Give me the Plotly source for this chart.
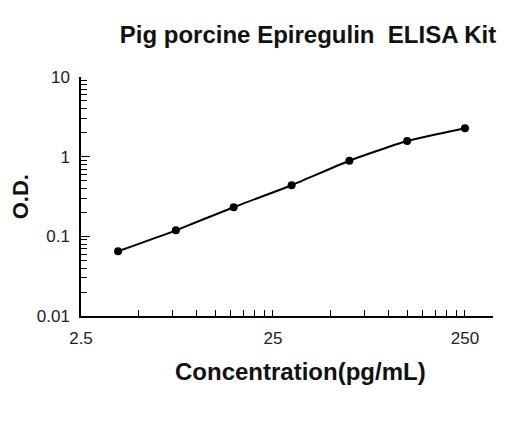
import plotly.graph_objects as go

# standard curve points
concentration = [3.9, 7.8, 15.6, 31.25, 62.5, 125, 250]
od = [0.065, 0.119, 0.232, 0.438, 0.89, 1.57, 2.28]

x_major = [2.5, 25, 250]
x_major_text = ["2.5", "25", "250"]
x_minor = [5, 7.5, 10, 12.5, 15, 17.5, 20, 22.5,
           50, 75, 100, 125, 150, 175, 200, 225]

y_major = [0.01, 0.1, 1, 10]
y_major_text = ["0.01", "0.1", "1", "10"]
y_minor = [m * d for d in (0.01, 0.1, 1) for m in range(2, 10)]

fig = go.Figure()
fig.add_trace(go.Scatter(
    x=concentration,
    y=od,
    mode="lines+markers",
    line=dict(color="black", width=2, shape="spline", smoothing=0.5),
    marker=dict(color="black", size=8),
    showlegend=False,
    hoverinfo="x+y",
))

# page body adds 8px, so the figure is a bit smaller than the window
fig.update_layout(
    width=512,
    height=413,
    margin=dict(l=73, r=27, t=69, b=105, autoexpand=False),
    paper_bgcolor="white",
    plot_bgcolor="white",
    font=dict(family="Liberation Sans, Arial", color="black"),
    title=dict(
        text="<b>Pig porcine Epiregulin  ELISA Kit</b>",
        x=0.586, xref="container", xanchor="center",
        y=0.935, yref="container", yanchor="middle",
        font=dict(size=24, color="#111"),
    ),
    annotations=[
        dict(
            text="<b>Concentration(pg/mL)</b>",
            xref="paper", yref="paper",
            x=0.532, y=-0.234, xanchor="center", yanchor="middle",
            showarrow=False, font=dict(size=24, color="#111"),
        ),
        dict(
            text="<b>O.D.</b>", textangle=-90,
            xref="paper", yref="paper",
            x=-0.145, y=0.498, xanchor="center", yanchor="middle",
            showarrow=False, borderpad=0, font=dict(size=22, color="#111"),
        ),
    ],
)

fig.update_xaxes(
    type="log",
    range=[0.39794, 2.544],
    automargin=False,
    showgrid=False,
    zeroline=False,
    showline=True, linecolor="black", linewidth=1.5,
    tickmode="array", tickvals=x_major, ticktext=x_major_text,
    ticks="inside", ticklen=6, tickwidth=1, tickcolor="black",
    tickfont=dict(size=17, color="#222"),
    ticklabelstandoff=6,
    minor=dict(tickmode="array", tickvals=x_minor, ticks="inside",
               ticklen=6, tickwidth=1, tickcolor="black", showgrid=False),
)

fig.update_yaxes(
    type="log",
    range=[-2, 1],
    automargin=False,
    showgrid=False,
    zeroline=False,
    showline=True, linecolor="black", linewidth=1.5,
    tickmode="array", tickvals=y_major, ticktext=y_major_text,
    ticks="inside", ticklen=9, tickwidth=1, tickcolor="black",
    tickfont=dict(size=17, color="#222"),
    ticklabelstandoff=6,
    minor=dict(tickmode="array", tickvals=y_minor, ticks="inside",
               ticklen=6, tickwidth=1, tickcolor="black", showgrid=False),
)

fig.write_html("out.html")
